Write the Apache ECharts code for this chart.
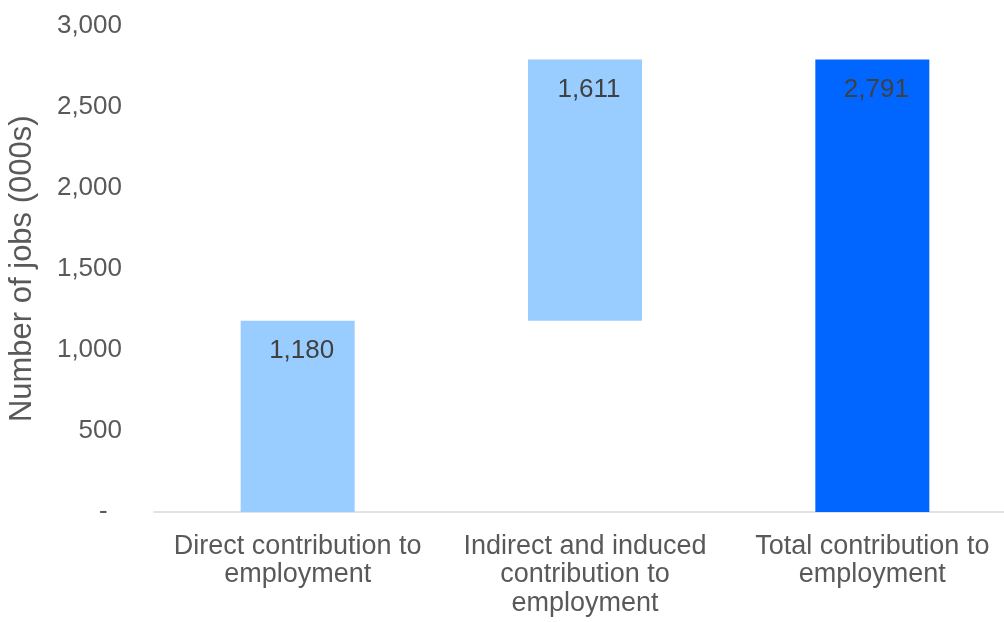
<!DOCTYPE html>
<html>
<head>
<meta charset="utf-8">
<script src="https://cdn.jsdelivr.net/npm/echarts@6/dist/echarts.min.js"></script>
<style>
  html, body { margin: 0; padding: 0; background: #fff; }
  #chart { width: 1004px; height: 622px; }
</style>
</head>
<body>
<div id="chart"></div>
<script>
// Contribution to employment, thousands of jobs
const categories = [
  'Direct contribution to\nemployment',
  'Indirect and induced\ncontribution to\nemployment',
  'Total contribution to\nemployment'
];
const contributions = [1180, 1611, 2791];
const yTicks = { min: 0, max: 3000, step: 500 };

// Waterfall: invisible base under the middle step, then the visible amounts
const bases = [0, contributions[0], 0];
const barColors = ['#99CCFF', '#99CCFF', '#0066FF'];

const textColor = '#595959';
const font = 'Liberation Sans, Arial, sans-serif';

// accounting-style zero: a dash padded on the right
const fmt = v => v === 0 ? '-\u00A0\u00A0' : v.toLocaleString('en-US');

const chart = echarts.init(document.getElementById('chart'), null, { renderer: 'canvas' });
chart.setOption({
  animation: false,
  backgroundColor: '#ffffff',
  grid: {
    left: 154, width: 862, top: 25.5, height: 486.5,
    containLabel: false, outerBoundsMode: 'none'
  },
  xAxis: {
    type: 'category',
    data: categories,
    axisLine: { show: true, lineStyle: { color: '#D9D9D9', width: 1.5 } },
    axisTick: { show: false },
    axisLabel: {
      color: textColor, fontFamily: font, fontSize: 27, lineHeight: 28.5,
      margin: 20, interval: 0
    }
  },
  yAxis: {
    type: 'value',
    min: yTicks.min, max: yTicks.max, interval: yTicks.step,
    name: 'Number of jobs (000s)',
    nameLocation: 'middle',
    nameRotate: 90,
    nameGap: 116,
    nameTextStyle: { color: textColor, fontFamily: font, fontSize: 31 },
    axisLine: { show: false },
    axisTick: { show: false },
    splitLine: { show: false },
    axisLabel: {
      color: textColor, fontFamily: font, fontSize: 26, margin: 32,
      formatter: fmt
    }
  },
  series: [
    {
      type: 'bar',
      stack: 'w',
      data: bases,
      barWidth: 114,
      itemStyle: { color: 'transparent' },
      emphasis: { disabled: true },
      silent: true
    },
    {
      type: 'bar',
      stack: 'w',
      data: contributions.map((v, i) => ({ value: v, itemStyle: { color: barColors[i] } })),
      barWidth: 114,
      label: {
        show: true,
        position: 'insideTop',
        distance: 17,
        offset: [4, 0],
        color: '#404040',
        fontFamily: font,
        fontSize: 26,
        formatter: p => fmt(p.value)
      }
    }
  ]
});
</script>
</body>
</html>
